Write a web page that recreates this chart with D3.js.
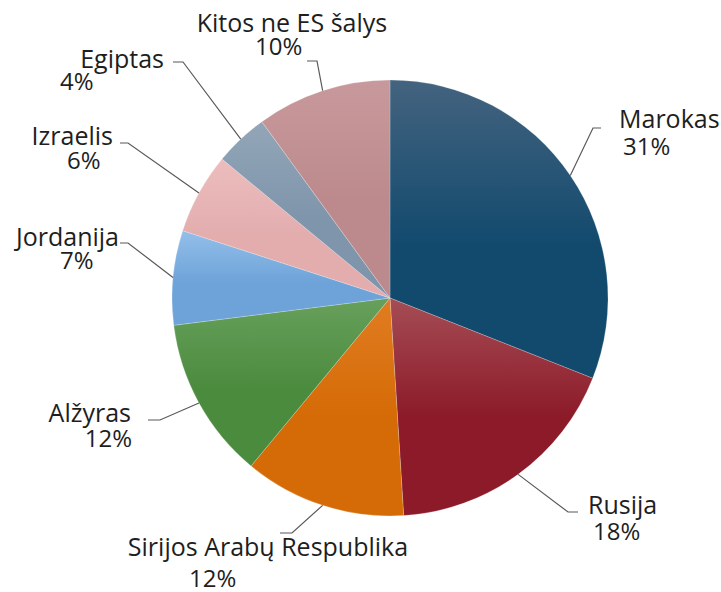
<!DOCTYPE html>
<html>
<head>
<meta charset="utf-8">
<script src="https://cdn.jsdelivr.net/npm/d3@7/dist/d3.min.js"></script>
<style>
  html, body { margin: 0; padding: 0; background: #ffffff; }
  svg { display: block; }
  text { font-family: "Open Sans", "DejaVu Sans", sans-serif; fill: #1e1e1e; }
</style>
</head>
<body>
<svg id="chart" width="721" height="592"></svg>
<script>
// Shares by country (percent), clockwise from 12 o'clock
const categories = ["Marokas", "Rusija", "Sirijos Arabų Respublika", "Alžyras", "Jordanija", "Izraelis", "Egiptas", "Kitos ne ES šalys"];
const shares = [31, 18, 12, 12, 7, 6, 4, 10];
const pctLabels = ["31%", "18%", "12%", "12%", "7%", "6%", "4%", "10%"];

// Slice fills: lighter tone at the top of each slice fading to the base tone
const topColors  = ["#44637f", "#a54d55", "#e07c22", "#67a05c", "#93bfe9", "#ecbdbe", "#93a6b8", "#c8999c"];
const baseColors = ["#124a6e", "#8c1a28", "#d56b06", "#4b8b3d", "#6ea3d9", "#e3adae", "#7f95ab", "#bc8a8d"];

const svg = d3.select("#chart");
const cx = 390, cy = 298, R = 218;

// Label placement: leader knee/end and text anchors
const layout = [
  { knee: [593, 128], end: [601, 128], name: [619, 128, "start"], pct: [623, 155, "start"] },
  { knee: [568, 512], end: [578, 512], name: [588, 514, "start"], pct: [593, 540, "start"] },
  { knee: [292, 533], end: [280, 533], name: [268, 556, "middle"], pct: [189, 587, "start"] },
  { knee: [160, 420], end: [148, 420], name: [131, 422, "end"], pct: [132, 447, "end"] },
  { knee: [128, 243], end: [120, 243], name: [119, 246, "end"], pct: [60, 269, "start"] },
  { knee: [128, 143], end: [120, 143], name: [113, 145, "end"], pct: [67, 169, "start"] },
  { knee: [183, 62], end: [173, 62], name: [164, 68, "end"], pct: [60, 90, "start"] },
  { knee: [317, 61], end: [307, 61], name: [292, 32, "middle"], pct: [255, 55, "start"] }
];

const defs = svg.append("defs");
categories.forEach((c, i) => {
  const g = defs.append("linearGradient")
    .attr("id", "grad" + i)
    .attr("x1", 0).attr("y1", 0).attr("x2", 0).attr("y2", 1);
  g.append("stop").attr("offset", "0%").attr("stop-color", topColors[i]);
  g.append("stop").attr("offset", "55%").attr("stop-color", baseColors[i]);
  g.append("stop").attr("offset", "100%").attr("stop-color", baseColors[i]);
});

const pie = d3.pie().sort(null).value(d => d);
const arcs = pie(shares);
const arc = d3.arc().innerRadius(0).outerRadius(R);
const edge = d3.arc().innerRadius(R).outerRadius(R);

const g = svg.append("g").attr("transform", `translate(${cx},${cy})`);
g.selectAll("path.slice")
  .data(arcs)
  .join("path")
  .attr("class", "slice")
  .attr("d", arc)
  .attr("fill", (d, i) => `url(#grad${i})`)
  .attr("stroke", "#ffffff")
  .attr("stroke-opacity", 0.35)
  .attr("stroke-width", 0.6);

// Leader lines from the slice rim to the labels
const line = d3.line();
svg.selectAll("path.leader")
  .data(arcs)
  .join("path")
  .attr("class", "leader")
  .attr("d", (d, i) => {
    const p = edge.centroid(d);
    return line([[cx + p[0], cy + p[1]], layout[i].knee, layout[i].end]);
  })
  .attr("fill", "none")
  .attr("stroke", "#595959")
  .attr("stroke-width", 1.2);

svg.selectAll("text.name")
  .data(categories)
  .join("text")
  .attr("class", "name")
  .attr("x", (d, i) => layout[i].name[0])
  .attr("y", (d, i) => layout[i].name[1])
  .attr("text-anchor", (d, i) => layout[i].name[2])
  .attr("font-size", 25)
  .text(d => d);

svg.selectAll("text.pct")
  .data(pctLabels)
  .join("text")
  .attr("class", "pct")
  .attr("x", (d, i) => layout[i].pct[0])
  .attr("y", (d, i) => layout[i].pct[1])
  .attr("text-anchor", (d, i) => layout[i].pct[2])
  .attr("font-size", 24)
  .text(d => d);
</script>
</body>
</html>
